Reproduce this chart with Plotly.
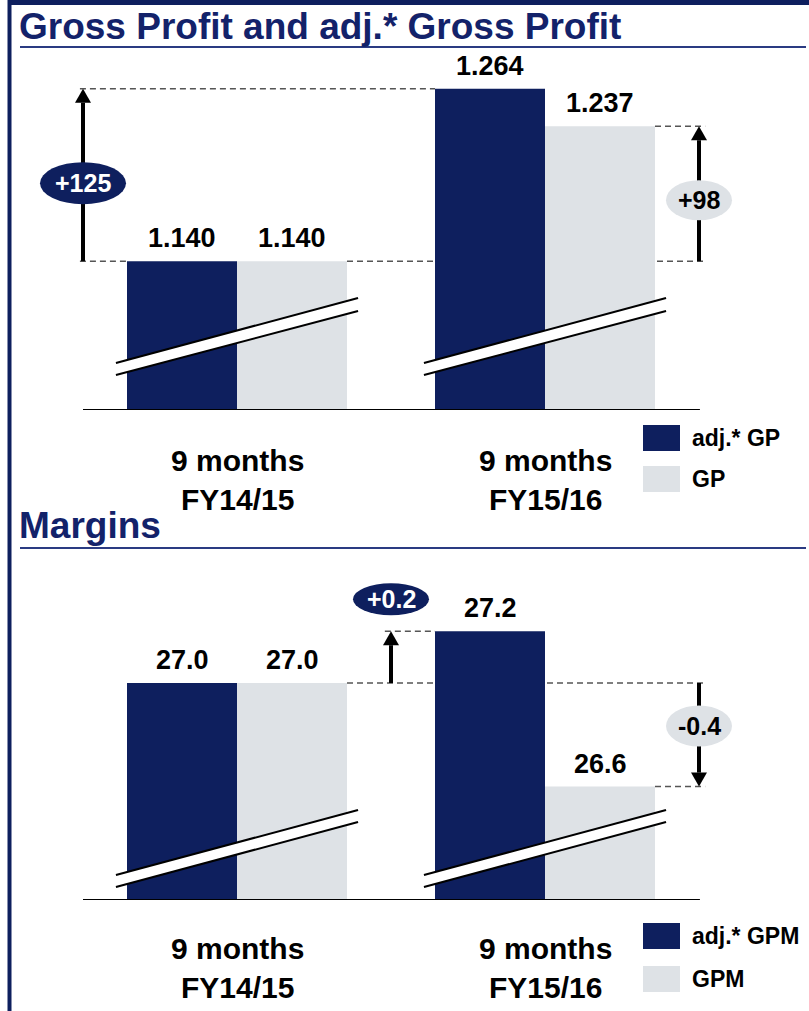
import plotly.graph_objects as go

# ---------------- data ----------------
categories = ["9 months<br>FY14/15", "9 months<br>FY15/16"]
gp_adj = [1.140, 1.264]
gp = [1.140, 1.237]
gpm_adj = [27.0, 27.2]
gpm = [27.0, 26.6]
gp_delta_labels = ["+125", "+98"]
gpm_delta_labels = ["+0.2", "-0.4"]
series_top = ["adj.* GP", "GP"]
series_bot = ["adj.* GPM", "GPM"]
titles = ["Gross Profit and adj.* Gross Profit", "Margins"]

# ---------------- style / layout ----------------
W, H = 809, 1011
NAVY = "#0E1F5E"
LIGHT = "#DEE2E6"
TITLE_C = "#13226A"
RULE_C = "#2A3B82"
DASH_C = "#555555"
FONT = "Liberation Sans"

PPX = 308.0                      # pixels per x unit
X0_PX = 237.0                    # pixel of first category centre
X_RANGE = [-X0_PX / PPX, (W - X0_PX) / PPX]
BAR_W = 110.0 / PPX
XL, XR, XB = -0.51, 1.52, 1.503  # extents of guide lines (x units)


def px_x(p):
    return p / W


def px_y(p):
    return 1 - p / H


panels = [
    dict(xa="x", ya="y", adj=gp_adj, base=gp, names=series_top, title=titles[0],
         dom=(40, 410), rng=(1.033, 1.299), fmt="{:.3f}", deltas=gp_delta_labels,
         arrow_x=[-0.5, 1.5], title_y=26, rule_y=47, cat_y=480, leg_y=[438, 479],
         brk=[(47, 35), (112, 99)],
         ovals=[dict(off=78, w=86, h=42), dict(off=61, w=66, h=40)]),
    dict(xa="x2", ya="y2", adj=gpm_adj, base=gpm, names=series_bot, title=titles[1],
         dom=(560, 900), rng=(26.162, 27.475), fmt="{:.1f}", deltas=gpm_delta_labels,
         arrow_x=[0.5, 1.5], title_y=525, rule_y=548, cat_y=968, leg_y=[936, 979],
         brk=[(25, 13), (90, 78)],
         ovals=[dict(off=32, w=76, h=32), dict(off=-43, w=66, h=41)]),
]

fig = go.Figure()
shapes = []
annos = []

for p in panels:
    xa, ya = p["xa"], p["ya"]
    ppu = (p["dom"][1] - p["dom"][0]) / (p["rng"][1] - p["rng"][0])
    y_base = p["rng"][0]

    def dy(pixels, ppu=ppu):
        return pixels / ppu

    xs = list(range(len(categories)))
    fig.add_bar(x=xs, y=p["adj"], width=BAR_W, offset=-BAR_W, name=p["names"][0],
                marker=dict(color=NAVY, line=dict(width=0)), xaxis=xa, yaxis=ya,
                showlegend=False, hoverinfo="skip")
    fig.add_bar(x=xs, y=p["base"], width=BAR_W, offset=0, name=p["names"][1],
                marker=dict(color=LIGHT, line=dict(width=0)), xaxis=xa, yaxis=ya,
                showlegend=False, hoverinfo="skip")

    # value labels
    for i in xs:
        for xv, val in ((i - BAR_W / 2, p["adj"][i]), (i + BAR_W / 2, p["base"][i])):
            annos.append(dict(x=xv, y=val, xref=xa, yref=ya, text="<b>" + p["fmt"].format(val) + "</b>",
                              showarrow=False, yanchor="bottom", yshift=6,
                              font=dict(family=FONT, size=27, color="black")))

    ref = p["adj"][0]
    dline = dict(type="line", xref=xa, yref=ya, line=dict(color=DASH_C, width=1.5, dash="6px,4px"))
    if p is panels[0]:
        shapes.append({**dline, "x0": XL, "x1": 1 - BAR_W, "y0": p["adj"][1], "y1": p["adj"][1]})
        shapes.append({**dline, "x0": XL, "x1": -BAR_W, "y0": ref, "y1": ref})
    else:
        shapes.append({**dline, "x0": 0.48, "x1": 1 - BAR_W, "y0": p["adj"][1], "y1": p["adj"][1]})
    shapes.append({**dline, "x0": BAR_W, "x1": XR, "y0": ref, "y1": ref, "layer": "below"})
    shapes.append({**dline, "x0": 1 + BAR_W, "x1": XR, "y0": p["base"][1], "y1": p["base"][1]})

    # break marks
    (ul, ll), (ur, lr) = p["brk"]
    for i in xs:
        xa0, xa1 = i - 0.393, i + 0.393
        yul, yll = y_base + dy(ul), y_base + dy(ll)
        yur, ylr = y_base + dy(ur), y_base + dy(lr)
        shapes.append(dict(type="path", xref=xa, yref=ya,
                           path=f"M{xa0},{yll} L{xa0},{yul} L{xa1},{yur} L{xa1},{ylr} Z",
                           fillcolor="white", line=dict(width=0)))
        shapes.append(dict(type="line", xref=xa, yref=ya, x0=xa0, x1=xa1, y0=yul, y1=yur,
                           line=dict(color="black", width=2)))
        shapes.append(dict(type="line", xref=xa, yref=ya, x0=xa0, x1=xa1, y0=yll, y1=ylr,
                           line=dict(color="black", width=2)))

    # baseline
    shapes.append(dict(type="line", xref=xa, yref=ya, x0=XL + 0.01, x1=XB, y0=y_base, y1=y_base,
                       line=dict(color="black", width=2)))

    # arrows + ovals
    targets = [p["adj"][1], p["base"][1]]
    for k, (ax, tgt) in enumerate(zip(p["arrow_x"], targets)):
        sgn = 1 if tgt > ref else -1
        head_h, head_w = dy(14), 8 / PPX
        shapes.append(dict(type="line", xref=xa, yref=ya, x0=ax, x1=ax, y0=ref, y1=tgt - sgn * head_h,
                           line=dict(color="black", width=4)))
        shapes.append(dict(type="path", xref=xa, yref=ya,
                           path=f"M{ax - head_w},{tgt - sgn * head_h} L{ax + head_w},{tgt - sgn * head_h} L{ax},{tgt} Z",
                           fillcolor="black", line=dict(width=0)))
        ov = p["ovals"][k]
        yc = (tgt if k == 0 and p is panels[1] else ref) + dy(ov["off"])
        hw, hh = ov["w"] / 2 / PPX, dy(ov["h"] / 2)
        fill = NAVY if k == 0 else LIGHT
        tcol = "white" if k == 0 else "black"
        shapes.append(dict(type="circle", xref=xa, yref=ya, x0=ax - hw, x1=ax + hw,
                           y0=yc - hh, y1=yc + hh, fillcolor=fill, line=dict(width=0)))
        annos.append(dict(x=ax, y=yc, xref=xa, yref=ya, text="<b>" + p["deltas"][k] + "</b>",
                          showarrow=False, font=dict(family=FONT, size=25, color=tcol)))

    # category labels
    for i in xs:
        annos.append(dict(x=i, y=px_y(p["cat_y"]), xref=xa, yref="paper", text="<b>" + categories[i] + "</b>",
                          showarrow=False, yanchor="middle", font=dict(family=FONT, size=30, color="black")))

    # legend
    for k, (col, nm) in enumerate(zip([NAVY, LIGHT], p["names"])):
        yc = p["leg_y"][k]
        shapes.append(dict(type="rect", xref="paper", yref="paper", x0=px_x(643), x1=px_x(680),
                           y0=px_y(yc + 13), y1=px_y(yc - 13), fillcolor=col, line=dict(width=0)))
        annos.append(dict(x=px_x(690), y=px_y(yc), xref="paper", yref="paper", text="<b>" + nm + "</b>",
                          showarrow=False, xanchor="left", yanchor="middle",
                          font=dict(family=FONT, size=23, color="black")))

    # title + rule
    annos.append(dict(x=px_x(17), y=px_y(p["title_y"]), xref="paper", yref="paper",
                      text="<b>" + p["title"] + "</b>", showarrow=False, xanchor="left", yanchor="middle",
                      font=dict(family=FONT, size=37, color=TITLE_C)))
    shapes.append(dict(type="line", xref="paper", yref="paper", x0=px_x(20), x1=px_x(806),
                       y0=px_y(p["rule_y"]), y1=px_y(p["rule_y"]), line=dict(color=RULE_C, width=2)))

# frame lines
shapes.append(dict(type="line", xref="paper", yref="paper", x0=px_x(9.5), x1=px_x(9.5), y0=0, y1=1,
                   line=dict(color=NAVY, width=4)))
shapes.append(dict(type="line", xref="paper", yref="paper", x0=px_x(8), x1=1, y0=px_y(2.5), y1=px_y(2.5),
                   line=dict(color=NAVY, width=5)))

ax_common = dict(visible=False, showgrid=False, zeroline=False, fixedrange=True)
fig.update_layout(
    width=W, height=H, margin=dict(l=0, r=0, t=0, b=0),
    paper_bgcolor="white", plot_bgcolor="rgba(0,0,0,0)",
    barmode="overlay", showlegend=False,
    xaxis=dict(domain=[0, 1], range=X_RANGE, anchor="y", **ax_common),
    yaxis=dict(domain=[px_y(panels[0]["dom"][1]), px_y(panels[0]["dom"][0])],
               range=list(panels[0]["rng"]), anchor="x", **ax_common),
    xaxis2=dict(domain=[0, 1], range=X_RANGE, anchor="y2", **ax_common),
    yaxis2=dict(domain=[px_y(panels[1]["dom"][1]), px_y(panels[1]["dom"][0])],
                range=list(panels[1]["rng"]), anchor="x2", **ax_common),
    shapes=shapes, annotations=annos,
)

fig.write_html("out.html", config={"displayModeBar": False},
               post_script="document.body.style.margin='0';")
